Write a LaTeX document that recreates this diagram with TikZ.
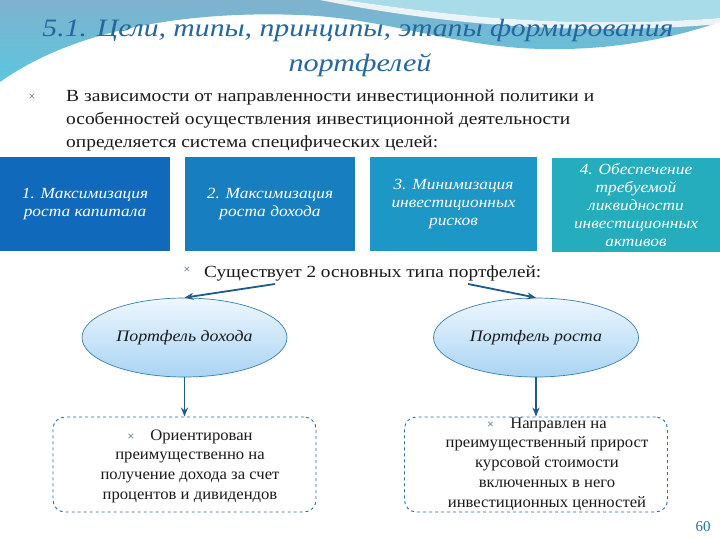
\documentclass[tikz,border=0pt]{standalone}
\usepackage{fontspec}
\setmainfont{Liberation Serif}
\newfontfamily\wideserif[FakeStretch=1.12]{Liberation Serif}
\newfontfamily\midserif[FakeStretch=1.04]{Liberation Serif}
\usetikzlibrary{arrows.meta,shapes.geometric}
\definecolor{bandtop}{HTML}{7FB2CD}
\definecolor{bandbot}{HTML}{5CC6DF}
\definecolor{bandlight}{HTML}{A8DCE9}
\definecolor{titlecol}{HTML}{23679E}
\definecolor{cA}{HTML}{1169BC}
\definecolor{cB}{HTML}{177FC0}
\definecolor{cC}{HTML}{1D97C6}
\definecolor{cD}{HTML}{25ADBE}
\definecolor{arrcol}{HTML}{1F5A8C}
\definecolor{ellborder}{HTML}{3A7DB0}
\definecolor{elltop}{HTML}{EEF7FD}
\definecolor{ellbot}{HTML}{A9D4F4}
\definecolor{dashcol}{HTML}{2E6C9C}
\definecolor{bulcol}{HTML}{3D5F80}
\definecolor{txt}{HTML}{1A1A1A}
\definecolor{pgcol}{HTML}{1C74B8}
\newcommand{\mybul}{{\color{bulcol}\fontsize{12}{12}\selectfont ×}}
\begin{document}
\begin{tikzpicture}[x=1pt,y=-1pt,
  goal/.style={rectangle, minimum width=#1, minimum height=94pt, inner sep=0pt,
    text=white, align=center, font=\wideserif\itshape\fontsize{15.5}{17.8}\selectfont},
  ell/.style={ellipse, draw=ellborder, line width=0.7pt, top color=elltop, bottom color=ellbot,
    minimum width=205pt, minimum height=79pt, inner sep=0pt,
    font=\wideserif\itshape\fontsize{16}{18}\selectfont, text=txt},
  dbox/.style={rectangle, rounded corners=12pt, draw=dashcol, dashed, line width=0.9pt,
    minimum width=263pt, minimum height=95pt, inner sep=0pt},
  boxtext/.style={align=center, font=\midserif\fontsize{16}{19.7}\selectfont, text=txt},
  bodytext/.style={anchor=base west, inner sep=0pt, font=\fontsize{17}{20}\selectfont, text=txt},
  arr/.style={draw=arrcol, line width=1.8pt, -{Stealth[length=9pt,width=7pt]}}
]
\useasboundingbox (0,0) rectangle (720,540);
\fill[white] (0,0) rectangle (720,540);
% top band
\shade[top color=bandtop, bottom color=bandbot]
  (0,0) -- (720,0) -- (720,22)
  .. controls (650,46) and (580,52) .. (520,48)
  .. controls (440,42) and (380,18) .. (300,15)
  .. controls (200,11) and (80,25) .. (0,82) -- cycle;
\fill[bandlight] (345,0) .. controls (440,14) and (560,30) .. (720,18) -- (720,0) -- cycle;
\fill[white, opacity=0.85] (320,0) .. controls (420,20) and (560,38) .. (720,24)
  -- (720,18) .. controls (560,30) and (440,14) .. (345,0) -- cycle;
% title
\node[anchor=base, inner sep=0pt, text=titlecol, font=\itshape\fontsize{25}{30}\selectfont] (t1) at (358,37)
  {\resizebox{631pt}{\height}{5.1. Цели, типы, принципы, этапы формирования}};
\node[anchor=base, inner sep=0pt, text=titlecol, font=\itshape\fontsize{25}{30}\selectfont] (t2) at (360,72)
  {\resizebox{143pt}{\height}{портфелей}};
% bullet text
\node[inner sep=0pt] (b1) at (32,97) {\mybul};
\node[bodytext] (l1) at (66,102) {\resizebox{528pt}{\height}{В зависимости от направленности инвестиционной политики и}};
\node[bodytext] (l2) at (66,125) {\resizebox{504pt}{\height}{особенностей осуществления инвестиционной деятельности}};
\node[bodytext] (l3) at (66,148) {\resizebox{372pt}{\height}{определяется система специфических целей:}};
% goal boxes
\node[goal=170pt, fill=cA] (g1) at (85,204) {1. Максимизация\\роста капитала};
\node[goal=170pt, fill=cB] (g2) at (270,204) {2. Максимизация\\роста дохода};
\node[goal=167pt, fill=cC] (g3) at (453.5,204) {3. Минимизация\\инвестиционных\\рисков};
\node[goal=168pt, fill=cD] (g4) at (636,205) {4. Обеспечение\\требуемой\\ликвидности\\инвестиционных\\активов};
% second bullet
\node[inner sep=0pt] (b2) at (187,270) {\mybul};
\node[bodytext] (s1) at (204,277) {\resizebox{337pt}{\height}{Существует 2 основных типа портфелей:}};
% ellipses
\node[ell] (e1) at (184.5,337.5) {Портфель дохода};
\node[ell] (e2) at (536,337.5) {Портфель роста};
% dashed boxes
\node[dbox] (d1) at (184.5,464.5) {};
\node[dbox] (d2) at (536,464.5) {};
\node[boxtext] (d1t) at (190,466) {\mybul\quad Ориентирован\\преимущественно на\\получение дохода за счет\\процентов и дивидендов};
\node[boxtext] (d2t) at (547,464) {\mybul\quad Направлен на\\преимущественный прирост\\курсовой стоимости\\включенных в него\\инвестиционных ценностей};
% arrows
\coordinate (a1) at (275,284);
\coordinate (a2) at (468,284);
\draw[arr] (a1) -- (e1.north);
\draw[arr] (a2) -- (e2.north);
\draw[arr] (e1.south) -- (d1.north);
\draw[arr] (e2.south) -- (d2.north);
% page number
\node[text=pgcol, font=\fontsize{15}{15}\selectfont, inner sep=0pt] (pg) at (703,527) {60};
\end{tikzpicture}
\end{document}
